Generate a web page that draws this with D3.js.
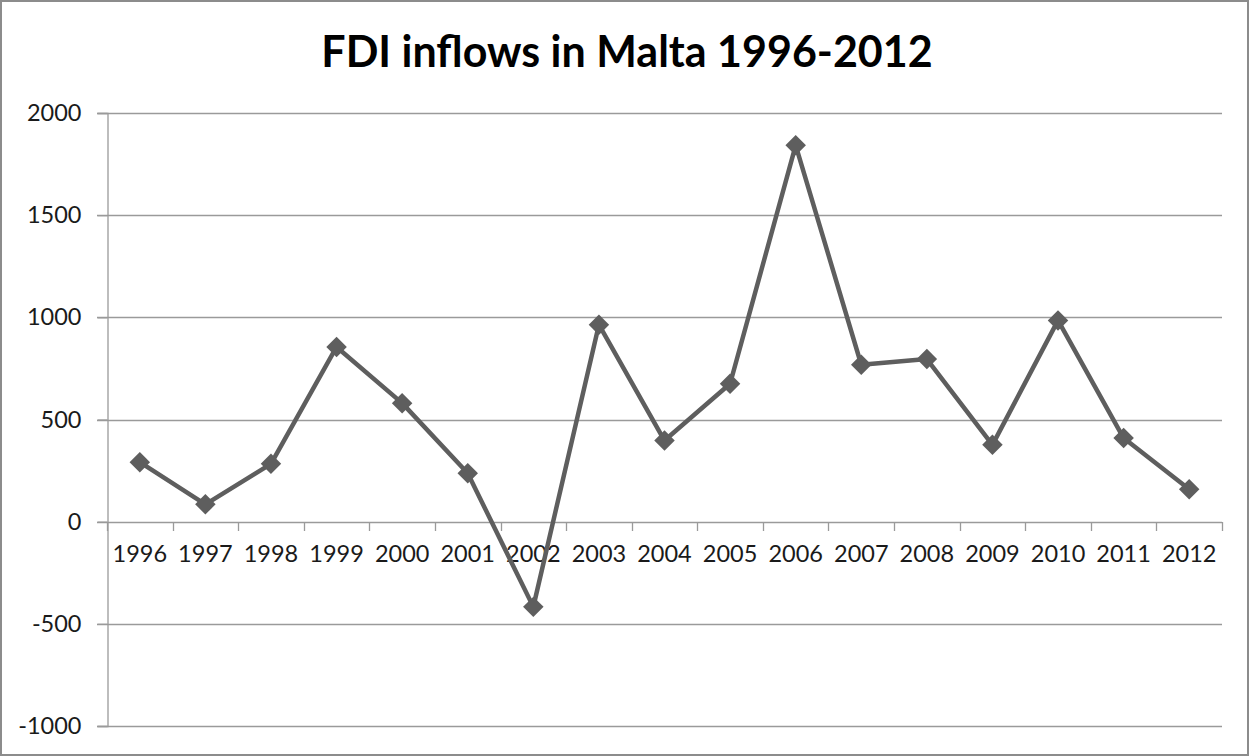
<!DOCTYPE html>
<html>
<head>
<meta charset="utf-8">
<script src="https://cdn.jsdelivr.net/npm/d3@7"></script>
<style>
  html, body { margin: 0; padding: 0; background: #fff; }
  svg { display: block; }
</style>
</head>
<body>
<script>
// FDI inflows in Malta, 1996-2012
const years = ["1996","1997","1998","1999","2000","2001","2002","2003","2004","2005","2006","2007","2008","2009","2010","2011","2012"];
const inflows = [291, 85, 283, 855, 580, 237, -417, 964, 397, 675, 1842, 768, 796, 376, 985, 409, 159];
const yTicks = [-1000, -500, 0, 500, 1000, 1500, 2000];
const title = "FDI inflows in Malta 1996-2012";

const W = 1249, H = 756;
const margin = { left: 107, right: 27, top: 113, bottom: 30 };
const fontFamily = "Lato, 'Open Sans', 'DejaVu Sans', sans-serif";

const svg = d3.select("body").append("svg")
  .attr("width", W).attr("height", H);

// outer frame
svg.append("rect")
  .attr("x", 1).attr("y", 1).attr("width", W - 2).attr("height", H - 2)
  .attr("fill", "#fff").attr("stroke", "#8c8c8c").attr("stroke-width", 2);

svg.append("text")
  .attr("x", 627).attr("y", 67)
  .attr("text-anchor", "middle")
  .attr("font-family", fontFamily)
  .attr("font-weight", "bold")
  .attr("font-size", 43)
  .attr("fill", "#000")
  .text(title);

const x = d3.scaleBand()
  .domain(years)
  .range([margin.left, W - margin.right]);

const y = d3.scaleLinear()
  .domain([-1000, 2000])
  .range([726, 113]);

// horizontal gridlines
svg.append("g")
  .selectAll("line")
  .data(yTicks)
  .join("line")
  .attr("x1", margin.left - 10).attr("x2", W - margin.right)
  .attr("y1", d => Math.round(y(d)) + 0.5).attr("y2", d => Math.round(y(d)) + 0.5)
  .attr("stroke", "#9a9a9a").attr("stroke-width", 1.3);

// y axis
const yAxis = svg.append("g")
  .attr("transform", `translate(${margin.left + 0.5},0)`)
  .call(d3.axisLeft(y).tickValues(yTicks).tickSize(10).tickPadding(16)
    .tickFormat(d => String(d)));
yAxis.select(".domain").attr("stroke", "#9a9a9a").attr("stroke-width", 1.3);
yAxis.selectAll(".tick line").attr("stroke", "#9a9a9a").attr("stroke-width", 1.3);
yAxis.selectAll("text")
  .attr("font-family", fontFamily).attr("font-size", 23.5).attr("fill", "#1a1a1a");

// x axis at zero
const xAxis = svg.append("g")
  .attr("transform", `translate(0,${Math.round(y(0)) + 0.5})`)
  .call(d3.axisBottom(x).tickSize(0).tickPadding(23));
xAxis.select(".domain").remove();
xAxis.selectAll("text")
  .attr("font-family", fontFamily).attr("font-size", 23.5).attr("fill", "#1a1a1a");

// category boundary ticks
const bounds = years.map(d => x(d)).concat([x(years[years.length - 1]) + x.bandwidth()]);
svg.append("g")
  .selectAll("line")
  .data(bounds)
  .join("line")
  .attr("x1", d => Math.round(d) + 0.5).attr("x2", d => Math.round(d) + 0.5)
  .attr("y1", Math.round(y(0))).attr("y2", Math.round(y(0)) + 9)
  .attr("stroke", "#9a9a9a").attr("stroke-width", 1.3);

const cx = d => x(d) + x.bandwidth() / 2;
const pts = years.map((d, i) => [cx(d), y(inflows[i])]);

svg.append("path")
  .datum(pts)
  .attr("d", d3.line())
  .attr("fill", "none")
  .attr("stroke", "#5e5e5e")
  .attr("stroke-width", 4.5)
  .attr("stroke-linejoin", "round");

const diamond = d3.symbol().type(d3.symbolSquare).size(210);
svg.append("g")
  .selectAll("path")
  .data(pts)
  .join("path")
  .attr("transform", d => `translate(${d[0]},${d[1]}) rotate(45)`)
  .attr("d", diamond)
  .attr("fill", "#5e5e5e");
</script>
</body>
</html>
